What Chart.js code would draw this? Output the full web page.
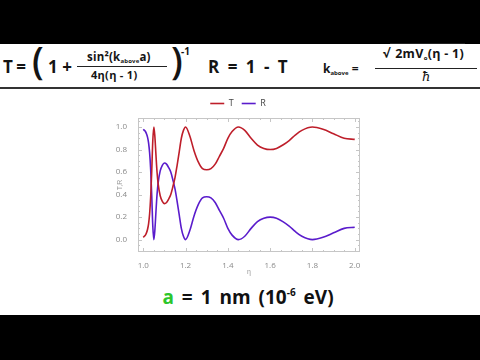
<!DOCTYPE html>
<html>
<head>
<meta charset="utf-8">
<script src="https://cdn.jsdelivr.net/npm/chart.js@4"></script>
<style>
  html, body { margin: 0; padding: 0; }
  body { width: 480px; height: 360px; background: #000; position: relative; overflow: hidden; font-family: "Open Sans", sans-serif; }
  #panel { position: absolute; left: 0; top: 44px; width: 480px; height: 271px; background: #fff; }
  .eq { position: absolute; font-weight: 700; color: #141414; white-space: nowrap; line-height: 1; }
  .big { font-size: 17px; }
  .small { font-size: 11px; }
  .sub { font-size: 6px; vertical-align: -2px; }
  .bar { position: absolute; height: 1px; background: #222; }
  #rule { position: absolute; left: 0; top: 87px; width: 480px; height: 2px; background: #333; }
  #chartBox { position: absolute; left: 0; top: 88px; width: 480px; height: 190px; }
  #caption { position: absolute; left: 8px; width: 480px; top: 284px; text-align: center; font-size: 19px; font-weight: 700; color: #111; word-spacing: 3px; }
  #caption .g { color: #2cc62c; }
  #caption sup { font-size: 10px; vertical-align: 8px; line-height: 0; }
</style>
</head>
<body>
<div id="panel"></div>

<!-- equation header -->
<div class="eq big" style="left:3px;top:58px;word-spacing:-1px;">T =</div>
<div class="eq" style="left:32px;top:41px;font-size:37px;font-weight:600;">(</div>
<div class="eq big" style="left:48px;top:58px;">1 +</div>
<div class="eq" style="left:87px;top:51px;font-size:11.5px;letter-spacing:0.2px;">sin²(k<span class="sub">above</span>a)</div>
<div class="bar" style="left:77px;top:66px;width:90px;"></div>
<div class="eq small" style="left:91px;top:69px;letter-spacing:0.3px;">4η(η - 1)</div>
<div class="eq" style="left:171px;top:41px;font-size:37px;font-weight:600;">)</div>
<div class="eq" style="left:181px;top:46px;font-size:10px;">-1</div>
<div class="eq big" style="left:208px;top:58px;word-spacing:4px;">R = 1 - T</div>
<div class="eq" style="left:323px;top:63px;font-size:12px;">k<span class="sub">above</span> =</div>
<div class="eq" style="left:383px;top:48px;font-size:12.5px;letter-spacing:0.3px;">√<span style="border-top:1px solid #222;padding:1px 1px 0 5px;">2mV<span class="sub">o</span>(η - 1)</span></div>
<div class="bar" style="left:375px;top:68px;width:102px;"></div>
<div class="eq" style="left:422px;top:70px;font-size:13px;font-weight:400;font-style:italic;font-family:'DejaVu Serif',serif;">ħ</div>
<div id="rule"></div>

<div id="chartBox"><canvas id="trChart" width="480" height="190"></canvas></div>

<div id="caption"><span class="g">a</span> = 1 nm (10<sup>-6</sup> eV)</div>

<script>
// --- data ---
const seriesNames = ['T', 'R'];
const etaValues = [1.00, 1.005, 1.01, 1.015, 1.02, 1.025, 1.03, 1.035, 1.04, 1.045,
  1.05, 1.055, 1.06, 1.065, 1.07, 1.08, 1.09, 1.10, 1.11, 1.12,
  1.13, 1.14, 1.15, 1.16, 1.17, 1.18, 1.19, 1.20, 1.22, 1.24,
  1.26, 1.28, 1.30, 1.32, 1.34, 1.36, 1.38, 1.40, 1.42, 1.45,
  1.48, 1.51, 1.54, 1.57, 1.60, 1.63, 1.66, 1.69, 1.72, 1.75,
  1.80, 1.85, 1.90, 1.95, 2.00];
const tValues = [0.02, 0.03, 0.04, 0.06, 0.09, 0.14, 0.23, 0.38, 0.61, 0.88,
  1.00, 0.91, 0.75, 0.60, 0.50, 0.39, 0.34, 0.32, 0.33, 0.36,
  0.40, 0.47, 0.55, 0.66, 0.78, 0.90, 0.97, 1.00, 0.92, 0.79,
  0.69, 0.63, 0.62, 0.63, 0.67, 0.74, 0.81, 0.90, 0.96, 1.00,
  0.97, 0.90, 0.84, 0.81, 0.80, 0.81, 0.84, 0.88, 0.93, 0.97,
  1.00, 0.98, 0.94, 0.90, 0.89];
const rValues = [0.98, 0.97, 0.96, 0.94, 0.91, 0.86, 0.77, 0.62, 0.39, 0.12,
  0.00, 0.09, 0.25, 0.40, 0.50, 0.61, 0.66, 0.68, 0.67, 0.64,
  0.60, 0.53, 0.45, 0.34, 0.22, 0.10, 0.03, 0.00, 0.08, 0.21,
  0.31, 0.37, 0.38, 0.37, 0.33, 0.26, 0.19, 0.10, 0.04, 0.00,
  0.03, 0.10, 0.16, 0.19, 0.20, 0.19, 0.16, 0.12, 0.07, 0.03,
  0.00, 0.02, 0.06, 0.10, 0.11];
const xTickValues = [1.0, 1.2, 1.4, 1.6, 1.8, 2.0];
const yTickValues = [0.0, 0.2, 0.4, 0.6, 0.8, 1.0];

const toPoints = (ys) => etaValues.map((x, i) => ({ x: x, y: ys[i] }));

// Mathematica-style frame with inward ticks on all four sides
const frameTicks = {
  id: 'frameTicks',
  afterDraw(chart) {
    const { ctx, chartArea: a, scales } = chart;
    ctx.save();
    ctx.strokeStyle = '#c6c6c6';
    ctx.lineWidth = 1;
    ctx.strokeRect(a.left + 0.5, a.top + 0.5, a.right - a.left - 1, a.bottom - a.top - 1);
    ctx.beginPath();
    for (let i = 0; i <= 20; i++) {
      const v = 1 + i * 0.05;
      const len = i % 4 === 0 ? 4 : 2;
      const px = Math.round(scales.x.getPixelForValue(v)) + 0.5;
      ctx.moveTo(px, a.bottom); ctx.lineTo(px, a.bottom - len);
      ctx.moveTo(px, a.top); ctx.lineTo(px, a.top + len);
    }
    for (let i = -2; i <= 21; i++) {
      const v = i * 0.05;
      const len = (i % 4 === 0) ? 4 : 2;
      const py = Math.round(scales.y.getPixelForValue(v)) + 0.5;
      ctx.moveTo(a.left, py); ctx.lineTo(a.left + len, py);
      ctx.moveTo(a.right, py); ctx.lineTo(a.right - len, py);
    }
    ctx.stroke();
    ctx.restore();
  }
};

const tickFont = { family: 'Open Sans', size: 8 };

new Chart(document.getElementById('trChart'), {
  type: 'line',
  data: {
    datasets: [
      {
        label: seriesNames[0],
        data: toPoints(tValues),
        borderColor: '#be1e2a',
        borderWidth: 1.6,
        pointRadius: 0,
        cubicInterpolationMode: 'monotone',
        fill: false
      },
      {
        label: seriesNames[1],
        data: toPoints(rValues),
        borderColor: '#5a1ccc',
        borderWidth: 1.6,
        pointRadius: 0,
        cubicInterpolationMode: 'monotone',
        fill: false
      }
    ]
  },
  options: {
    responsive: false,
    animation: false,
    layout: { padding: { left: 116, right: 120, top: 3, bottom: 2 } },
    plugins: {
      legend: {
        position: 'top',
        labels: {
          usePointStyle: true,
          pointStyle: 'line',
          pointStyleWidth: 14,
          boxHeight: 8,
          padding: 8,
          color: '#444',
          font: { family: 'Open Sans', size: 9 }
        }
      },
      tooltip: { enabled: false }
    },
    scales: {
      x: {
        type: 'linear',
        min: 0.975,
        max: 2.025,
        grid: { display: false },
        border: { display: false },
        afterBuildTicks: (scale) => { scale.ticks = xTickValues.map(v => ({ value: v })); },
        afterFit: (scale) => { scale.height = 24; },
        ticks: {
          color: '#8a8a8a',
          font: tickFont,
          padding: 1,
          maxRotation: 0,
          callback: (v) => v.toFixed(1)
        },
        title: { display: true, text: 'η', color: '#9a9a9a', font: { size: 7 }, padding: { top: 1, bottom: 0 } }
      },
      y: {
        min: -0.11,
        max: 1.08,
        grid: { display: false },
        border: { display: false },
        afterBuildTicks: (scale) => { scale.ticks = yTickValues.map(v => ({ value: v })); },
        afterFit: (scale) => { scale.width = 22; },
        ticks: {
          color: '#8a8a8a',
          font: tickFont,
          padding: 3,
          callback: (v) => v.toFixed(1)
        },
        title: { display: true, text: 'T,R', color: '#9a9a9a', font: { size: 7 }, padding: 0 }
      }
    }
  },
  plugins: [frameTicks]
});
</script>
</body>
</html>
